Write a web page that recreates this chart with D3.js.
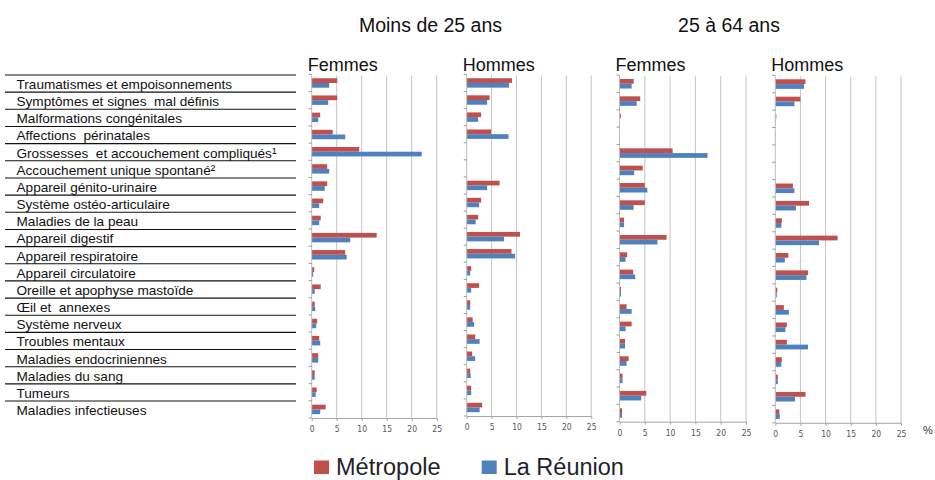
<!DOCTYPE html>
<html>
<head>
<meta charset="utf-8">
<style>
body{margin:0;background:#fff;font-family:"Liberation Sans",Arial,sans-serif}
svg{display:block}
</style>
</head>
<body>
<div id="chart"></div>
<script src="https://cdn.jsdelivr.net/npm/d3@7.8.3/dist/d3.min.js"></script>
<script>
// Hospitalisations par pathologie : Métropole vs La Réunion

const categories = [
    "Traumatismes et empoisonnements",
    "Symptômes et signes  mal définis",
    "Malformations congénitales",
    "Affections  périnatales",
    "Grossesses  et accouchement compliqués¹",
    "Accouchement unique spontané²",
    "Appareil génito-urinaire",
    "Système ostéo-articulaire",
    "Maladies de la peau",
    "Appareil digestif",
    "Appareil respiratoire",
    "Appareil circulatoire",
    "Oreille et apophyse mastoïde",
    "Œil et  annexes",
    "Système nerveux",
    "Troubles mentaux",
    "Maladies endocriniennes",
    "Maladies du sang",
    "Tumeurs",
    "Maladies infectieuses"
];
const series = ["Métropole", "La Réunion"];
const ageGroups = ["Moins de 25 ans", "25 à 64 ans"];
const sexes = ["Femmes", "Hommes"];
const xTicks = [0, 5, 10, 15, 20, 25];

// moins de 25 ans
const femmes25Metro   = [5.1, 5.1, 1.7, 4.2, 9.5, 3.1, 3.1, 2.3, 1.8, 13.0, 6.7, 0.5, 1.8, 0.6, 1.1, 1.5, 1.3, 0.6, 1.0, 2.8];
const femmes25Reunion = [3.5, 3.3, 1.3, 6.7, 22.0, 3.5, 2.6, 1.5, 1.5, 7.7, 7.0, 0.3, 0.6, 0.7, 0.9, 1.7, 1.3, 0.6, 0.8, 1.7];
const hommes25Metro   = [9.1, 4.6, 2.9, 4.9, null, null, 6.6, 2.9, 2.3, 10.7, 9.0, 0.9, 2.5, 0.7, 1.2, 1.7, 1.1, 0.7, 0.9, 3.1];
const hommes25Reunion = [8.5, 4.1, 2.3, 8.4, null, null, 4.1, 2.5, 1.8, 7.5, 9.7, 0.7, 0.9, 0.7, 1.5, 2.6, 1.7, 0.8, 0.9, 2.6];
// 25 à 64 ans
const femmes64Metro   = [2.8, 4.1, 0.26, 0.1, 10.5, 4.6, 5.0, 5.0, 0.9, 9.3, 1.5, 2.7, 0.3, 1.4, 2.4, 1.1, 1.8, 0.6, 5.3, 0.5];
const femmes64Reunion = [2.4, 3.4, 0.1, 0.05, 17.4, 2.9, 5.5, 2.8, 0.9, 7.5, 1.2, 3.1, 0.3, 2.4, 1.2, 1.1, 1.4, 0.6, 4.3, 0.5];
const hommes64Metro   = [6.0, 5.0, 0.2, 0.1, null, null, 3.5, 6.7, 1.3, 12.4, 2.6, 6.5, 0.4, 1.7, 2.3, 2.3, 1.3, 0.5, 6.0, 0.8];
const hommes64Reunion = [5.7, 3.8, 0.1, 0.05, null, null, 3.8, 4.1, 1.2, 8.7, 1.9, 6.2, 0.3, 2.7, 2.0, 6.5, 1.2, 0.5, 3.9, 0.9];

const colors = {"Métropole": "#c0504d", "La Réunion": "#4f81bd"};

const width = 935, height = 480;

// one entry per small chart (layout only)
const panels = [
    {title: sexes[0], metro: femmes25Metro, reunion: femmes25Reunion, x: 311.7, w: 125,   top: 74.4, bottom: 418},
    {title: sexes[1], metro: hommes25Metro, reunion: hommes25Reunion, x: 466.7, w: 124.5, top: 74.4, bottom: 416},
    {title: sexes[0], metro: femmes64Metro, reunion: femmes64Reunion, x: 619.5, w: 126.5, top: 75.1, bottom: 421.7},
    {title: sexes[1], metro: hommes64Metro, reunion: hommes64Reunion, x: 775.3, w: 125.7, top: 75.4, bottom: 422.8}
];

const svg = d3.select("#chart").append("svg")
    .attr("width", width)
    .attr("height", height);

// age group headers
svg.selectAll("text.age")
    .data(ageGroups)
    .join("text")
    .attr("class", "age")
    .attr("x", (d, i) => i == 0 ? 430.5 : 729)
    .attr("y", 31.5)
    .attr("text-anchor", "middle")
    .style("font-size", "19.5px")
    .style("fill", "#111")
    .text(d => d);

// category table on the left
const rowY = d3.scaleBand()
    .domain(categories)
    .range([75, 75 + 17.16 * categories.length]);

const table = svg.append("g");
table.selectAll("line")
    .data(categories.slice(0, -1).concat(["__top"]))
    .join("line")
    .attr("x1", 5).attr("x2", 296)
    .attr("y1", d => d == "__top" ? 75 : rowY(d) + rowY.bandwidth())
    .attr("y2", d => d == "__top" ? 75 : rowY(d) + rowY.bandwidth())
    .attr("stroke", "#111")
    .attr("stroke-width", 1.1);
table.selectAll("text")
    .data(categories)
    .join("text")
    .attr("x", 16.5)
    .attr("y", d => rowY(d) + 14)
    .style("font-size", "13.6px")
    .style("fill", "#111")
    .style("white-space", "pre")
    .text(d => d);

panels.forEach(p => {
    const g = svg.append("g");

    const x = d3.scaleLinear()
        .domain([0, 25])
        .range([p.x, p.x + p.w]);

    const y = d3.scaleBand()
        .domain(categories)
        .range([p.top, p.bottom])
        .paddingInner(0.45)
        .paddingOuter(0.225);

    const ySub = d3.scaleBand()
        .domain(series)
        .range([0, y.bandwidth()]);

    // gridlines
    g.selectAll("line.grid")
        .data(xTicks.slice(1))
        .join("line")
        .attr("class", "grid")
        .attr("x1", d => x(d)).attr("x2", d => x(d))
        .attr("y1", p.top + 1).attr("y2", p.bottom)
        .attr("stroke", "#c4c4c4")
        .attr("stroke-width", 1);

    // bars
    const rows = categories.map((c, i) => ({cat: c, vals: [
        {s: series[0], v: p.metro[i]},
        {s: series[1], v: p.reunion[i]}
    ]}));

    g.selectAll("g.row")
        .data(rows)
        .join("g")
        .attr("class", "row")
        .attr("transform", d => `translate(0,${y(d.cat)})`)
        .selectAll("rect")
        .data(d => d.vals.filter(v => v.v != null))
        .join("rect")
        .attr("x", x(0))
        .attr("y", d => ySub(d.s))
        .attr("width", d => x(d.v) - x(0))
        .attr("height", ySub.bandwidth())
        .attr("fill", d => colors[d.s]);

    // y axis with small ticks at band limits
    g.append("line")
        .attr("x1", x(0)).attr("x2", x(0))
        .attr("y1", p.top).attr("y2", p.bottom)
        .attr("stroke", "#bdbdbd");
    g.selectAll("line.ytick")
        .data(d3.range(categories.length + 1))
        .join("line")
        .attr("class", "ytick")
        .attr("x1", x(0) - 3).attr("x2", x(0))
        .attr("y1", i => p.top + i * y.step())
        .attr("y2", i => p.top + i * y.step())
        .attr("stroke", "#9a9a9a");

    // x axis
    const xAxis = g.append("g")
        .attr("transform", `translate(0,${p.bottom})`)
        .call(d3.axisBottom(x).tickValues(xTicks).tickSize(3).tickSizeOuter(0).tickPadding(5));
    xAxis.select(".domain").attr("stroke", "#a6a6a6");
    xAxis.selectAll(".tick line").attr("stroke", "#a6a6a6");
    xAxis.selectAll(".tick text")
        .style("font-family", "'Liberation Sans Narrow','DejaVu Sans Condensed',Arial,sans-serif")
        .style("font-size", "8.5px")
        .style("fill", "#555");

    // panel title
    g.append("text")
        .attr("x", p.x - 4)
        .attr("y", 70.5)
        .style("font-size", "18px")
        .style("fill", "#111")
        .text(p.title);
});

// unit
svg.append("text")
    .attr("x", 923)
    .attr("y", 434)
    .style("font-size", "11px")
    .style("fill", "#333")
    .text("%");

// legend
const legend = svg.append("g");
const legendX = [314, 481.7];
series.forEach((s, i) => {
    legend.append("rect")
        .attr("x", legendX[i])
        .attr("y", 460.5)
        .attr("width", 15)
        .attr("height", 13.5)
        .attr("fill", colors[s]);
    legend.append("text")
        .attr("x", legendX[i] + 22)
        .attr("y", 474.5)
        .style("font-size", "23.5px")
        .style("fill", "#1f1f2e")
        .text(s);
});
</script>
</body>
</html>
